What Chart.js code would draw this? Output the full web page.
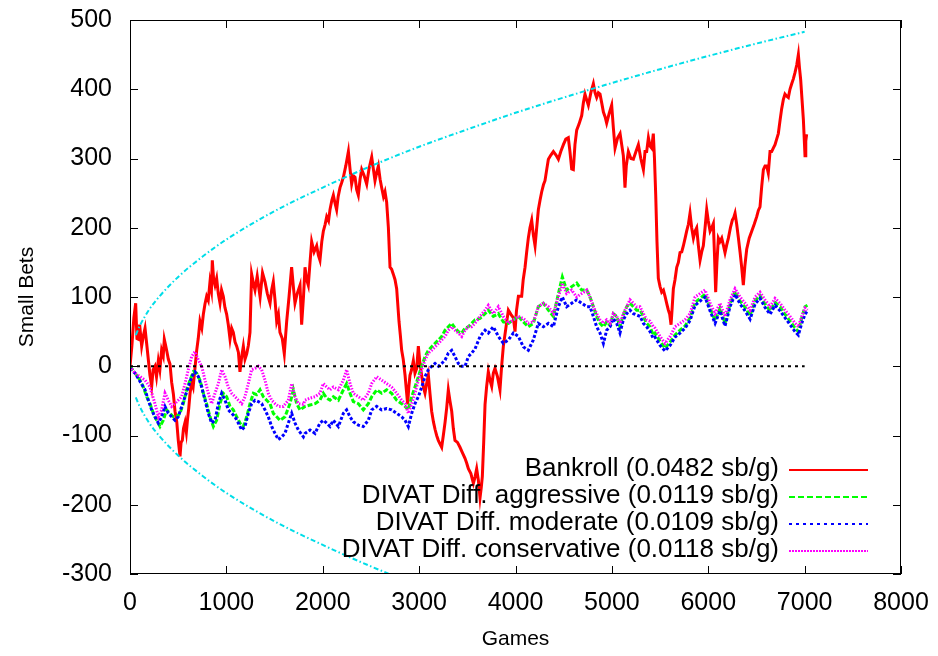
<!DOCTYPE html>
<html>
<head>
<meta charset="utf-8">
<script src="https://cdn.jsdelivr.net/npm/chart.js@4.4.1/dist/chart.umd.min.js"></script>
<style>
  html, body { margin: 0; padding: 0; background: #fff; }
  #chart { display: block; }
</style>
</head>
<body>
<canvas id="chart" width="938" height="656"></canvas>
<script>
// [game, small bets] pairs
const bankroll = [
[0,0],[20,30],[40,70],[59,91],[72,40],[86,39],[100,60],[121,29],[140,45],[156,55],[175,30],[207,-13],[225,-29],[240,-5],[259,0],[275,-15],[294,8],[310,-5],[328,23],[345,15],[356,39],[370,30],[380,23],[398,10],[415,3],[432,-23],[450,-40],[467,-65],[485,-80],[501,-107],[519,-130],[530,-110],[543,-107],[555,-90],[571,-81],[585,-95],[598,-75],[610,-60],[623,-39],[640,-23],[655,-30],[674,-3],[692,23],[708,40],[726,65],[745,55],[761,75],[778,90],[795,101],[812,95],[830,122],[845,110],[854,153],[868,125],[882,117],[899,127],[916,105],[934,91],[950,110],[968,101],[985,85],[1003,75],[1020,60],[1038,39],[1055,55],[1072,49],[1090,35],[1107,29],[1125,20],[1141,-8],[1160,15],[1176,29],[1193,10],[1211,18],[1228,30],[1245,49],[1262,133],[1280,120],[1297,110],[1320,130],[1350,100],[1375,135],[1401,122],[1425,105],[1453,91],[1470,110],[1487,122],[1505,95],[1522,65],[1540,75],[1556,49],[1580,40],[1601,18],[1615,45],[1626,65],[1650,100],[1677,143],[1695,115],[1712,91],[1735,105],[1764,117],[1781,60],[1800,100],[1816,143],[1833,125],[1850,117],[1868,150],[1885,180],[1910,165],[1937,174],[1955,160],[1971,153],[1990,180],[2006,195],[2025,205],[2041,216],[2060,210],[2075,226],[2095,240],[2110,247],[2128,235],[2144,226],[2160,245],[2179,258],[2196,265],[2214,273],[2240,290],[2266,310],[2283,285],[2300,263],[2318,275],[2335,273],[2352,255],[2369,247],[2387,270],[2404,284],[2430,275],[2456,263],[2480,285],[2508,302],[2525,285],[2542,268],[2560,280],[2577,289],[2595,270],[2611,258],[2630,245],[2646,252],[2663,237],[2681,200],[2698,143],[2715,140],[2732,133],[2750,125],[2767,112],[2791,65],[2805,45],[2819,23],[2835,10],[2854,-13],[2868,-35],[2881,-55],[2893,-30],[2905,-13],[2922,-5],[2940,8],[2957,-10],[2975,-3],[2992,29],[3008,5],[3026,-13],[3044,-30],[3061,-39],[3078,-25],[3096,-13],[3113,-40],[3130,-65],[3148,-80],[3165,-91],[3182,-100],[3199,-107],[3216,-112],[3234,-117],[3251,-100],[3269,-81],[3286,-60],[3303,-34],[3320,-50],[3338,-65],[3355,-90],[3372,-107],[3398,-110],[3424,-117],[3450,-125],[3476,-133],[3494,-140],[3511,-148],[3537,-155],[3563,-169],[3580,-160],[3597,-148],[3615,-165],[3632,-190],[3645,-175],[3656,-159],[3670,-110],[3684,-55],[3700,-30],[3718,-8],[3735,-20],[3753,-29],[3770,-10],[3787,-3],[3813,-15],[3839,-34],[3856,0],[3874,29],[3900,55],[3926,81],[3952,75],[3978,70],[3995,50],[4010,80],[4030,101],[4064,101],[4080,125],[4099,143],[4116,165],[4133,185],[4150,200],[4168,211],[4185,190],[4203,174],[4220,200],[4237,226],[4255,240],[4272,252],[4290,262],[4306,268],[4325,285],[4341,299],[4367,305],[4393,310],[4420,305],[4445,299],[4470,310],[4497,320],[4522,328],[4548,330],[4565,310],[4583,285],[4600,284],[4617,320],[4635,341],[4660,350],[4687,362],[4704,380],[4721,393],[4738,385],[4756,377],[4782,395],[4808,408],[4825,395],[4842,388],[4860,395],[4877,393],[4895,380],[4912,367],[4930,360],[4946,351],[4972,365],[4998,377],[5015,345],[5033,315],[5060,330],[5085,336],[5102,320],[5119,304],[5128,280],[5136,258],[5150,290],[5171,310],[5197,300],[5223,299],[5250,310],[5275,320],[5300,300],[5327,284],[5344,310],[5361,310],[5379,330],[5396,318],[5413,315],[5430,336],[5442,300],[5455,247],[5468,180],[5482,127],[5500,115],[5517,107],[5535,110],[5552,101],[5570,90],[5586,81],[5600,75],[5614,60],[5626,85],[5638,112],[5655,125],[5673,143],[5690,150],[5707,164],[5725,165],[5742,174],[5760,185],[5776,195],[5794,205],[5811,221],[5828,200],[5846,185],[5863,195],[5880,200],[5897,175],[5915,153],[5932,165],[5949,174],[5967,200],[5984,226],[6000,210],[6019,195],[6036,200],[6053,206],[6065,160],[6077,107],[6090,150],[6105,185],[6122,180],[6140,185],[6157,175],[6174,164],[6191,175],[6209,185],[6230,200],[6250,211],[6265,215],[6278,221],[6295,205],[6313,185],[6330,165],[6347,143],[6364,117],[6380,145],[6399,169],[6425,185],[6451,195],[6477,205],[6503,216],[6520,225],[6537,230],[6555,260],[6572,284],[6589,289],[6607,289],[6623,279],[6641,310],[6658,310],[6675,315],[6693,320],[6710,328],[6727,336],[6745,355],[6762,372],[6779,385],[6796,393],[6814,390],[6831,388],[6848,400],[6866,408],[6883,415],[6900,424],[6918,435],[6935,450],[6947,430],[6959,414],[6973,385],[6987,356],[7004,304],[7012,325],[7021,335]
];

const aggressive = [
[0,0],[52,-10],[104,-20],[138,-30],[173,-44],[207,-54],[242,-68],[277,-78],[311,-87],[346,-78],[380,-63],[415,-68],[450,-73],[484,-73],[519,-68],[553,-54],[588,-34],[623,-20],[657,-8],[692,-10],[726,-20],[761,-39],[795,-54],[830,-73],[865,-87],[899,-78],[934,-54],[968,-39],[1003,-44],[1038,-58],[1072,-63],[1107,-73],[1141,-82],[1176,-87],[1211,-73],[1245,-54],[1280,-39],[1314,-41],[1349,-34],[1383,-44],[1418,-49],[1453,-54],[1487,-68],[1522,-73],[1556,-78],[1608,-73],[1660,-54],[1695,-34],[1729,-54],[1764,-63],[1816,-58],[1868,-56],[1920,-54],[1971,-49],[2006,-39],[2041,-46],[2075,-49],[2110,-44],[2162,-49],[2214,-34],[2248,-25],[2283,-39],[2317,-51],[2369,-54],[2421,-63],[2473,-54],[2508,-44],[2560,-34],[2611,-39],[2663,-34],[2715,-39],[2767,-49],[2819,-54],[2854,-58],[2888,-63],[2923,-44],[2957,-30],[2992,-15],[3027,0],[3061,14],[3096,23],[3130,28],[3165,33],[3200,38],[3234,43],[3269,52],[3303,57],[3338,62],[3372,55],[3407,50],[3442,48],[3476,55],[3511,57],[3545,62],[3580,67],[3632,69],[3684,76],[3718,81],[3770,72],[3822,76],[3874,64],[3926,62],[3978,67],[4030,72],[4082,64],[4133,57],[4185,62],[4237,86],[4289,91],[4341,81],[4393,72],[4445,105],[4486,129],[4531,110],[4583,115],[4635,120],[4687,110],[4739,110],[4773,100],[4808,86],[4842,72],[4877,62],[4912,57],[4946,64],[4981,59],[5015,76],[5050,72],[5084,57],[5119,74],[5154,86],[5188,91],[5223,86],[5257,81],[5292,81],[5327,72],[5361,62],[5396,57],[5430,45],[5448,48],[5500,36],[5552,26],[5604,35],[5655,45],[5707,52],[5759,58],[5811,70],[5863,92],[5915,98],[5967,104],[6019,84],[6071,66],[6122,84],[6174,62],[6226,90],[6278,108],[6330,94],[6382,85],[6434,73],[6486,95],[6537,102],[6589,90],[6641,80],[6693,92],[6745,86],[6797,75],[6849,65],[6901,55],[6935,50],[6970,70],[7004,86],[7029,88]
];

const moderate = [
[0,-3],[52,-10],[104,-22],[156,-34],[190,-49],[225,-63],[259,-73],[294,-82],[328,-73],[363,-58],[398,-68],[432,-73],[467,-78],[501,-73],[536,-58],[571,-44],[605,-30],[640,-15],[674,-8],[709,-15],[744,-30],[778,-49],[813,-68],[847,-82],[882,-78],[917,-54],[951,-39],[986,-49],[1020,-63],[1055,-68],[1089,-73],[1124,-82],[1159,-92],[1193,-87],[1228,-68],[1262,-54],[1297,-49],[1332,-51],[1366,-54],[1401,-63],[1435,-73],[1470,-87],[1505,-97],[1539,-106],[1574,-102],[1608,-97],[1643,-82],[1678,-68],[1712,-82],[1747,-92],[1799,-102],[1816,-97],[1868,-92],[1920,-97],[1971,-82],[2006,-78],[2041,-82],[2075,-87],[2110,-78],[2162,-87],[2214,-68],[2248,-63],[2283,-73],[2317,-80],[2369,-85],[2421,-87],[2473,-78],[2508,-63],[2560,-58],[2611,-63],[2663,-61],[2715,-63],[2767,-68],[2819,-73],[2854,-78],[2888,-87],[2923,-68],[2957,-54],[2992,-44],[3027,-30],[3061,-15],[3096,-5],[3130,0],[3165,4],[3200,0],[3234,4],[3269,9],[3303,19],[3338,23],[3372,14],[3407,4],[3442,0],[3476,0],[3511,14],[3545,19],[3580,25],[3632,43],[3684,52],[3718,48],[3770,57],[3822,43],[3874,33],[3926,38],[3978,48],[4030,43],[4082,28],[4133,23],[4185,38],[4237,62],[4289,57],[4341,62],[4393,57],[4445,86],[4486,100],[4531,86],[4583,91],[4635,96],[4687,91],[4739,86],[4773,86],[4808,72],[4842,57],[4877,48],[4912,33],[4946,52],[4981,57],[5015,69],[5050,62],[5084,48],[5119,67],[5154,76],[5188,81],[5223,76],[5257,74],[5292,72],[5327,62],[5361,57],[5396,50],[5430,40],[5448,42],[5500,30],[5552,22],[5604,30],[5655,42],[5707,48],[5759,55],[5811,66],[5863,88],[5915,94],[5967,100],[6019,80],[6071,62],[6122,80],[6174,58],[6226,86],[6278,104],[6330,90],[6382,80],[6434,68],[6486,90],[6537,98],[6589,85],[6641,75],[6693,88],[6745,80],[6797,70],[6849,60],[6901,50],[6935,45],[6970,62],[7004,75],[7029,80]
];

const conservative = [
[0,0],[52,-10],[104,-15],[156,-20],[207,-30],[259,-54],[294,-73],[328,-63],[363,-39],[398,-49],[432,-58],[467,-54],[501,-49],[536,-44],[571,-25],[605,-5],[640,14],[674,21],[709,9],[744,0],[778,-20],[813,-39],[847,-54],[882,-39],[917,-25],[951,-5],[986,-15],[1020,-30],[1055,-39],[1089,-44],[1124,-49],[1159,-54],[1193,-44],[1228,-25],[1262,-5],[1297,-3],[1332,0],[1366,-5],[1401,-20],[1435,-39],[1470,-49],[1505,-54],[1539,-58],[1591,-58],[1643,-49],[1678,-25],[1712,-44],[1747,-54],[1799,-55],[1816,-49],[1868,-46],[1920,-44],[1971,-39],[2006,-25],[2041,-30],[2075,-34],[2110,-30],[2162,-34],[2214,-20],[2248,-5],[2283,-25],[2317,-39],[2369,-44],[2421,-49],[2473,-39],[2508,-25],[2560,-15],[2611,-20],[2663,-25],[2715,-30],[2767,-39],[2819,-49],[2854,-54],[2888,-68],[2923,-54],[2957,-39],[2992,-20],[3027,-5],[3061,9],[3096,19],[3130,23],[3165,28],[3200,33],[3234,38],[3269,43],[3303,52],[3338,57],[3372,52],[3407,48],[3442,43],[3476,52],[3511,57],[3545,57],[3580,62],[3632,72],[3684,81],[3718,88],[3770,76],[3822,86],[3874,72],[3926,62],[3978,67],[4030,72],[4082,69],[4133,62],[4185,64],[4237,86],[4289,91],[4341,86],[4393,76],[4445,100],[4486,120],[4531,105],[4583,110],[4635,100],[4687,105],[4739,110],[4773,100],[4808,86],[4842,76],[4877,67],[4912,62],[4946,67],[4981,62],[5015,76],[5050,72],[5084,62],[5119,76],[5154,86],[5188,96],[5223,91],[5257,86],[5292,86],[5327,76],[5361,67],[5396,65],[5430,57],[5448,55],[5500,43],[5552,33],[5604,43],[5655,57],[5707,62],[5759,67],[5811,76],[5863,100],[5915,105],[5967,110],[6019,91],[6071,76],[6122,91],[6174,72],[6226,96],[6278,112],[6330,100],[6382,91],[6434,81],[6486,100],[6537,107],[6589,96],[6641,86],[6693,98],[6745,91],[6797,81],[6849,72],[6901,62],[6935,57],[6970,72],[7004,84],[7029,81]
];

// the two cyan envelope curves and the zero line
const boundGames = [60, 100, 200, 300, 500, 750, 1000, 1500, 2000, 2500, 3000, 3500, 4000, 4500, 5000, 5500, 6000, 6500, 7000];
const upperSb = [45, 58, 82, 100, 129, 158, 183, 224, 258, 289, 317, 342, 366, 388, 409, 429, 448, 466, 483];
const lowerSb = [-45, -58, -82, -100, -129, -158, -183, -224, -258, -289, -317];
const zeroGames = [0, 7000];
const zeroSb = [0, 0];

const xTicks = { min: 0, max: 8000, step: 1000 };
const yTicks = { min: -300, max: 500, step: 100 };

function pts(pairs) { return pairs.map(p => ({ x: p[0], y: p[1] })); }
function zip(xs, ys) { return ys.map((v, i) => ({ x: xs[i], y: v })); }

Chart.defaults.font.family = '"Liberation Sans", Arial, sans-serif';
Chart.defaults.color = '#000';

const frame = {
  id: 'frame',
  afterDatasetsDraw(chart) {
    const { ctx, chartArea: a, scales: { x, y } } = chart;
    ctx.save();
    ctx.strokeStyle = '#000';
    ctx.lineWidth = 1;
    ctx.strokeRect(a.left + 0.5, a.top + 0.5, a.right - a.left - 1, a.bottom - a.top - 1);
    ctx.beginPath();
    x.ticks.forEach(t => {
      const px = Math.round(x.getPixelForValue(t.value)) + 0.5;
      ctx.moveTo(px, a.bottom); ctx.lineTo(px, a.bottom - 8);
      ctx.moveTo(px, a.top); ctx.lineTo(px, a.top + 8);
    });
    y.ticks.forEach(t => {
      const py = Math.round(y.getPixelForValue(t.value)) + 0.5;
      ctx.moveTo(a.left, py); ctx.lineTo(a.left + 8, py);
      ctx.moveTo(a.right, py); ctx.lineTo(a.right - 8, py);
    });
    ctx.stroke();
    ctx.restore();
  }
};

// gnuplot style key: text right aligned, sample line to its right
const key = {
  id: 'key',
  afterDatasetsDraw(chart) {
    const { ctx, chartArea: a } = chart;
    ctx.save();
    ctx.font = '26px "Liberation Sans", Arial, sans-serif';
    ctx.textAlign = 'right';
    ctx.textBaseline = 'middle';
    let row = 0;
    chart.data.datasets.forEach(ds => {
      if (!ds.label) return;
      const yy = a.bottom - 105 + row * 27;
      ctx.fillStyle = '#000';
      ctx.fillText(ds.label, a.right - 122, yy);
      ctx.setLineDash(ds.keyDash);
      ctx.lineWidth = 2;
      ctx.strokeStyle = ds.keyColor;
      ctx.beginPath();
      ctx.moveTo(a.right - 112, yy + 1);
      ctx.lineTo(a.right - 33, yy + 1);
      ctx.stroke();
      row++;
    });
    ctx.restore();
  }
};

new Chart('chart', {
  type: 'line',
  data: {
    datasets: [
      { label: 'Bankroll (0.0482 sb/g)', data: pts(bankroll), borderColor: '#ff0000', borderWidth: 3, order: 5, keyColor: '#ff0000', keyDash: [] },
      { label: 'DIVAT Diff. aggressive (0.0119 sb/g)', data: pts(aggressive), borderColor: '#00ff00', borderWidth: 3, borderDash: [5, 2], order: 4, keyColor: '#00ff00', keyDash: [6, 3] },
      { label: 'DIVAT Diff. moderate (0.0109 sb/g)', data: pts(moderate), borderColor: '#0000ff', borderWidth: 3, borderDash: [3, 2], order: 3, keyColor: '#0000ff', keyDash: [3, 4] },
      { label: 'DIVAT Diff. conservative (0.0118 sb/g)', data: pts(conservative), borderColor: '#ff00ff', borderWidth: 3, borderDash: [1.5, 1.5], order: 2, keyColor: '#ff00ff', keyDash: [2, 1] },
      { label: '', data: zip(boundGames, upperSb), borderColor: '#00dde8', borderWidth: 2, borderDash: [5, 2.5, 1.5, 2.5], cubicInterpolationMode: 'monotone', order: 1 },
      { label: '', data: zip(boundGames, lowerSb), borderColor: '#00dde8', borderWidth: 2, borderDash: [5, 2.5, 1.5, 2.5], cubicInterpolationMode: 'monotone', order: 1 },
      { label: '', data: zip(zeroGames, zeroSb), borderColor: '#000000', borderWidth: 2, borderDash: [3, 4], order: 0 }
    ]
  },
  options: {
    responsive: false,
    animation: false,
    events: [],
    elements: { point: { radius: 0 }, line: { tension: 0, fill: false } },
    layout: { padding: { top: 20, right: 37, left: 0, bottom: 0 } },
    plugins: { legend: { display: false }, tooltip: { enabled: false } },
    scales: {
      x: {
        type: 'linear',
        min: xTicks.min,
        max: xTicks.max,
        grid: { display: false, drawTicks: false },
        border: { display: false },
        ticks: { stepSize: xTicks.step, padding: 14, maxRotation: 0, autoSkip: false, font: { size: 25 }, callback: v => String(v) },
        title: { display: true, text: 'Games', font: { size: 21 }, padding: { top: 0, bottom: 4 } },
        afterFit: s => { s.height = 82; s.paddingLeft = 0; s.paddingRight = 0; }
      },
      y: {
        type: 'linear',
        min: yTicks.min,
        max: yTicks.max,
        grid: { display: false, drawTicks: false },
        border: { display: false },
        ticks: { stepSize: yTicks.step, padding: 18, autoSkip: false, font: { size: 25 }, callback: v => String(v) },
        title: { display: true, text: 'Small Bets', font: { size: 21 }, padding: { top: 15, bottom: 0 } },
        afterFit: s => { s.width = 130; s.paddingTop = 0; s.paddingBottom = 0; }
      }
    }
  },
  plugins: [frame, key]
});
</script>
</body>
</html>
